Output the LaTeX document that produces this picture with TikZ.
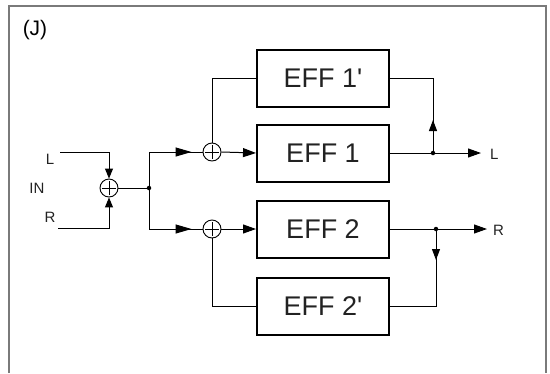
\documentclass[tikz,border=0pt]{standalone}
\usepackage{fontspec}
\setmainfont{Liberation Sans}
\usetikzlibrary{arrows.meta,decorations.markings}
\definecolor{txt}{HTML}{222222}
\definecolor{frame}{HTML}{7A7A7A}
\begin{document}
\begin{tikzpicture}[x=1pt,y=-1pt,
  effbox/.style={draw=black,line width=2pt,minimum width=132pt,minimum height=57pt,inner sep=0pt,font=\fontsize{27}{28}\selectfont,text=txt},
  sumnode/.style={draw=black,line width=0.9pt,circle,minimum size=18pt,inner sep=0pt,
    path picture={\draw[line width=0.9pt] ([xshift=-7pt]path picture bounding box.center) -- ([xshift=7pt]path picture bounding box.center);
                  \draw[line width=0.9pt] ([yshift=-7pt]path picture bounding box.center) -- ([yshift=7pt]path picture bounding box.center);}},
  lbl/.style={font=\fontsize{15}{16}\selectfont,text=txt,inner sep=0pt},
  conn/.style={draw=black,line width=1pt},
  midtip/.style={-{Triangle[length=13pt,width=9pt]}},
  smalltip/.style={-{Triangle[length=10pt,width=8pt]}},
  midarrow/.style={postaction={decorate},decoration={markings,mark=at position #1 with {\arrow{Triangle[length=16pt,width=9pt]}}}},
  vertarrow/.style={postaction={decorate},decoration={markings,mark=at position #1 with {\arrow{Triangle[length=11pt,width=8pt]}}}},
  dotnode/.style={circle,fill=black,inner sep=0pt,minimum size=4.5pt}
]
\useasboundingbox (0,0) rectangle (550,373);
% frame
\draw[frame,line width=1.5pt] (9,373) -- (9,6) -- (546,6) -- (546,373);
\node[font=\fontsize{21}{22}\selectfont,text=black,inner sep=0pt] (title) at (35,30) {(J)};

% input
\node[lbl] (inL) at (50,159) {L};
\node[lbl] (inR) at (50,217) {R};
\node[lbl] (inIN) at (37,188) {IN};
\coordinate (srcL) at (60,152);
\coordinate (srcR) at (58,228);
\node[sumnode] (s0) at (109,188) {};
\draw[conn,smalltip] (srcL) -| (s0.north);
\draw[conn,smalltip] (srcR) -| (s0.south);
\node[dotnode] (j0) at (149,188) {};
\draw[conn] (s0.east) -- (j0);

% sum nodes
\node[sumnode] (s1) at (212,152) {};
\node[sumnode] (s2) at (212,229) {};
\draw[conn,midarrow=-11pt] (j0.center) |- (s1.west);
\draw[conn,midarrow=-11pt] (j0.center) |- (s2.west);

% boxes
\node[effbox] (e1p) at (323,78) {EFF 1\textquotesingle};
\node[effbox] (e1) at (323,153) {EFF 1};
\node[effbox] (e2) at (323,229) {EFF 2};
\node[effbox] (e2p) at (323,306) {EFF 2\textquotesingle};

\draw[conn,midtip] (s1.east) -- (e1.west);
\draw[conn,midtip] (s2.east) -- (e2.west);
\draw[conn] (s1.north) |- (e1p.west);
\draw[conn] (s2.south) |- (e2p.west);

% outputs
\node[dotnode] (jL) at (433,153) {};
\node[dotnode] (jR) at (436,229) {};
\coordinate (outL) at (481,153);
\coordinate (outR) at (487,229);
\node[lbl,anchor=west] (labL) at (490,154) {L};
\node[lbl,anchor=west] (labR) at (493,230) {R};
\draw[conn,midtip] (e1.east) -- (outL);
\draw[conn,midtip] (e2.east) -- (outR);
\draw[conn,vertarrow=33pt] (jL.center) |- (e1p.east);
\draw[conn,vertarrow=31pt] (jR.center) |- (e2p.east);
\end{tikzpicture}
\end{document}
